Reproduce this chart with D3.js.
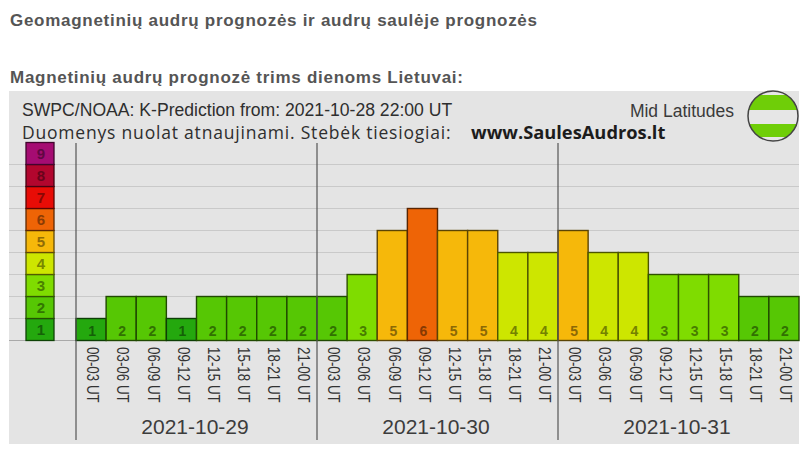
<!DOCTYPE html>
<html>
<head>
<meta charset="utf-8">
<script src="https://cdn.jsdelivr.net/npm/d3@7"></script>
<style>
  html, body { margin: 0; padding: 0; background: #fff; overflow: hidden; }
  svg { display: block; }
  text { font-family: "Liberation Sans", Arial, sans-serif; }
</style>
</head>
<body>
<script>
var w = 800;
var h = 450;

// Values
var kValues = [1, 2, 2, 1, 2, 2, 2, 2,
               2, 3, 5, 6, 5, 5, 4, 4,
               5, 4, 4, 3, 3, 3, 2, 2];
var hourLabels = ["00-03 UT", "03-06 UT", "06-09 UT", "09-12 UT",
                  "12-15 UT", "15-18 UT", "18-21 UT", "21-00 UT"];
var days = ["2021-10-29", "2021-10-30", "2021-10-31"];
var levels = [1, 2, 3, 4, 5, 6, 7, 8, 9];
var levelColors = ["#24a80e", "#56c704", "#7fdc00", "#cde600", "#f6b80a",
                   "#ee6406", "#e80c06", "#b2062e", "#a50c72"];

var svg = d3.select("body")
            .append("svg")
            .attr("width", w)
            .attr("height", h);

// Page headings
svg.append("text").attr("x", 10).attr("y", 26)
   .attr("font-size", 17).attr("font-weight", "bold").attr("fill", "#555")
   .attr("letter-spacing", 0.72)
   .text("Geomagnetinių audrų prognozės ir audrų saulėje prognozės");
svg.append("text").attr("x", 10).attr("y", 83)
   .attr("font-size", 17).attr("font-weight", "bold").attr("fill", "#555")
   .attr("letter-spacing", 0.72)
   .text("Magnetinių audrų prognozė trims dienoms Lietuvai:");

// Grey panel
svg.append("rect").attr("x", 9).attr("y", 91)
   .attr("width", 790).attr("height", 353).attr("fill", "#e4e4e4");

var y = d3.scaleLinear().domain([0, 9]).range([340.5, 142.5]);
var slots = d3.range(kValues.length);
var x = d3.scaleBand().domain(slots).range([76, 799]);
var legendX = d3.scaleBand().domain([0]).range([26, 54]);
var color = d3.scaleOrdinal().domain(levels).range(levelColors);

// Horizontal grid lines
svg.selectAll("line.grid")
   .data(d3.range(0, 9))
   .enter()
   .append("line")
   .attr("class", "grid")
   .attr("x1", 9).attr("x2", 799)
   .attr("y1", d => y(d)).attr("y2", d => y(d))
   .attr("stroke", d => d === 0 ? "#a9a9a9" : "#c9c9c9")
   .attr("stroke-width", 1);

// Legend column on the left
svg.selectAll("rect.legend")
   .data(levels)
   .enter()
   .append("rect")
   .attr("class", "legend")
   .attr("x", legendX(0))
   .attr("width", legendX.bandwidth())
   .attr("y", d => y(d))
   .attr("height", d => y(d - 1) - y(d))
   .attr("fill", d => color(d))
   .attr("stroke", d => d3.color(color(d)).darker(2.6))
   .attr("stroke-width", 1.3);

svg.selectAll("text.legend")
   .data(levels)
   .enter()
   .append("text")
   .attr("class", "legend")
   .attr("x", legendX(0) + legendX.bandwidth() / 2 + 1)
   .attr("y", d => y(d - 1) - 5.5)
   .attr("text-anchor", "middle")
   .attr("font-size", 15)
   .attr("font-weight", "bold")
   .attr("fill", d => d3.color(color(d)).darker(1.5))
   .text(d => d);

// Forecast bars
svg.selectAll("rect.bar")
   .data(kValues)
   .enter()
   .append("rect")
   .attr("class", "bar")
   .attr("x", (d, i) => x(i))
   .attr("width", x.bandwidth())
   .attr("y", d => y(d))
   .attr("height", d => y(0) - y(d))
   .attr("fill", d => color(d))
   .attr("stroke", d => d3.color(color(d)).darker(2.8))
   .attr("stroke-width", 1.4);

svg.selectAll("text.bar")
   .data(kValues)
   .enter()
   .append("text")
   .attr("class", "bar")
   .attr("x", (d, i) => x(i) + x.bandwidth() / 2 + 1)
   .attr("y", y(0) - 4.5)
   .attr("text-anchor", "middle")
   .attr("font-size", 14)
   .attr("font-weight", "bold")
   .attr("fill", d => d3.color(color(d)).darker(1.6))
   .text(d => d);

// Hour labels, rotated to read downwards
var axis = d3.axisBottom(x)
             .tickSize(0)
             .tickPadding(0)
             .tickFormat(i => hourLabels[i % hourLabels.length]);

var axisG = svg.append("g")
               .attr("transform", "translate(0," + y(0) + ")")
               .call(axis);
axisG.select(".domain").remove();
axisG.selectAll("text")
     .attr("transform", "translate(2,0) rotate(90) scale(1,1.18)")
     .attr("x", 6.5)
     .attr("y", 0)
     .attr("dy", "0.36em")
     .attr("text-anchor", "start")
     .attr("font-family", "Liberation Sans")
     .attr("font-size", 13.4)
     .attr("fill", "#333");

// Day separators and date labels
var dayStart = i => x(i * hourLabels.length);

svg.selectAll("line.day")
   .data(days)
   .enter()
   .append("line")
   .attr("class", "day")
   .attr("x1", (d, i) => dayStart(i)).attr("x2", (d, i) => dayStart(i))
   .attr("y1", 143).attr("y2", 440)
   .attr("stroke", "#555")
   .attr("stroke-width", 1.2);

svg.selectAll("text.day")
   .data(days)
   .enter()
   .append("text")
   .attr("class", "day")
   .attr("x", (d, i) => dayStart(i) + x.bandwidth() * 4 - 1.5)
   .attr("y", 434)
   .attr("text-anchor", "middle")
   .attr("font-size", 21)
   .attr("fill", "#3c3c3c")
   .text(d => d);

// Chart header
svg.append("text").attr("x", 22).attr("y", 116)
   .attr("font-size", 17.6).attr("fill", "#2e2e2e")
   .text("SWPC/NOAA: K-Prediction from: 2021-10-28 22:00 UT");
svg.append("text").attr("x", 22).attr("y", 138.5)
   .style("font-family", "'Open Sans'")
   .attr("font-size", 17.5).attr("letter-spacing", 0.8).attr("fill", "#2e2e2e")
   .text("Duomenys nuolat atnaujinami. Stebėk tiesiogiai:");
svg.append("text").attr("x", 471).attr("y", 138.5)
   .style("font-family", "'Open Sans'")
   .attr("font-size", 18.3).attr("font-weight", "bold").attr("fill", "#1c1c1c")
   .text("www.SaulesAudros.lt");
svg.append("text").attr("x", 734).attr("y", 116.5)
   .attr("text-anchor", "end")
   .attr("font-size", 17.5).attr("fill", "#3a3a3a")
   .text("Mid Latitudes");

// Status badge
var defs = svg.append("defs");
defs.append("clipPath").attr("id", "badge")
    .append("circle").attr("cx", 773).attr("cy", 116).attr("r", 25);

var badge = svg.append("g").attr("clip-path", "url(#badge)");
badge.append("rect").attr("x", 748).attr("y", 91).attr("width", 50).attr("height", 50).attr("fill", "#e6e6e6");
badge.append("rect").attr("x", 748).attr("y", 95).attr("width", 50).attr("height", 15).attr("fill", "#6fce08");
badge.append("rect").attr("x", 748).attr("y", 124).attr("width", 50).attr("height", 13).attr("fill", "#6fce08");
svg.append("circle").attr("cx", 773).attr("cy", 116).attr("r", 25)
   .attr("fill", "none").attr("stroke", "#444").attr("stroke-width", 1.5);
</script>
</body>
</html>
